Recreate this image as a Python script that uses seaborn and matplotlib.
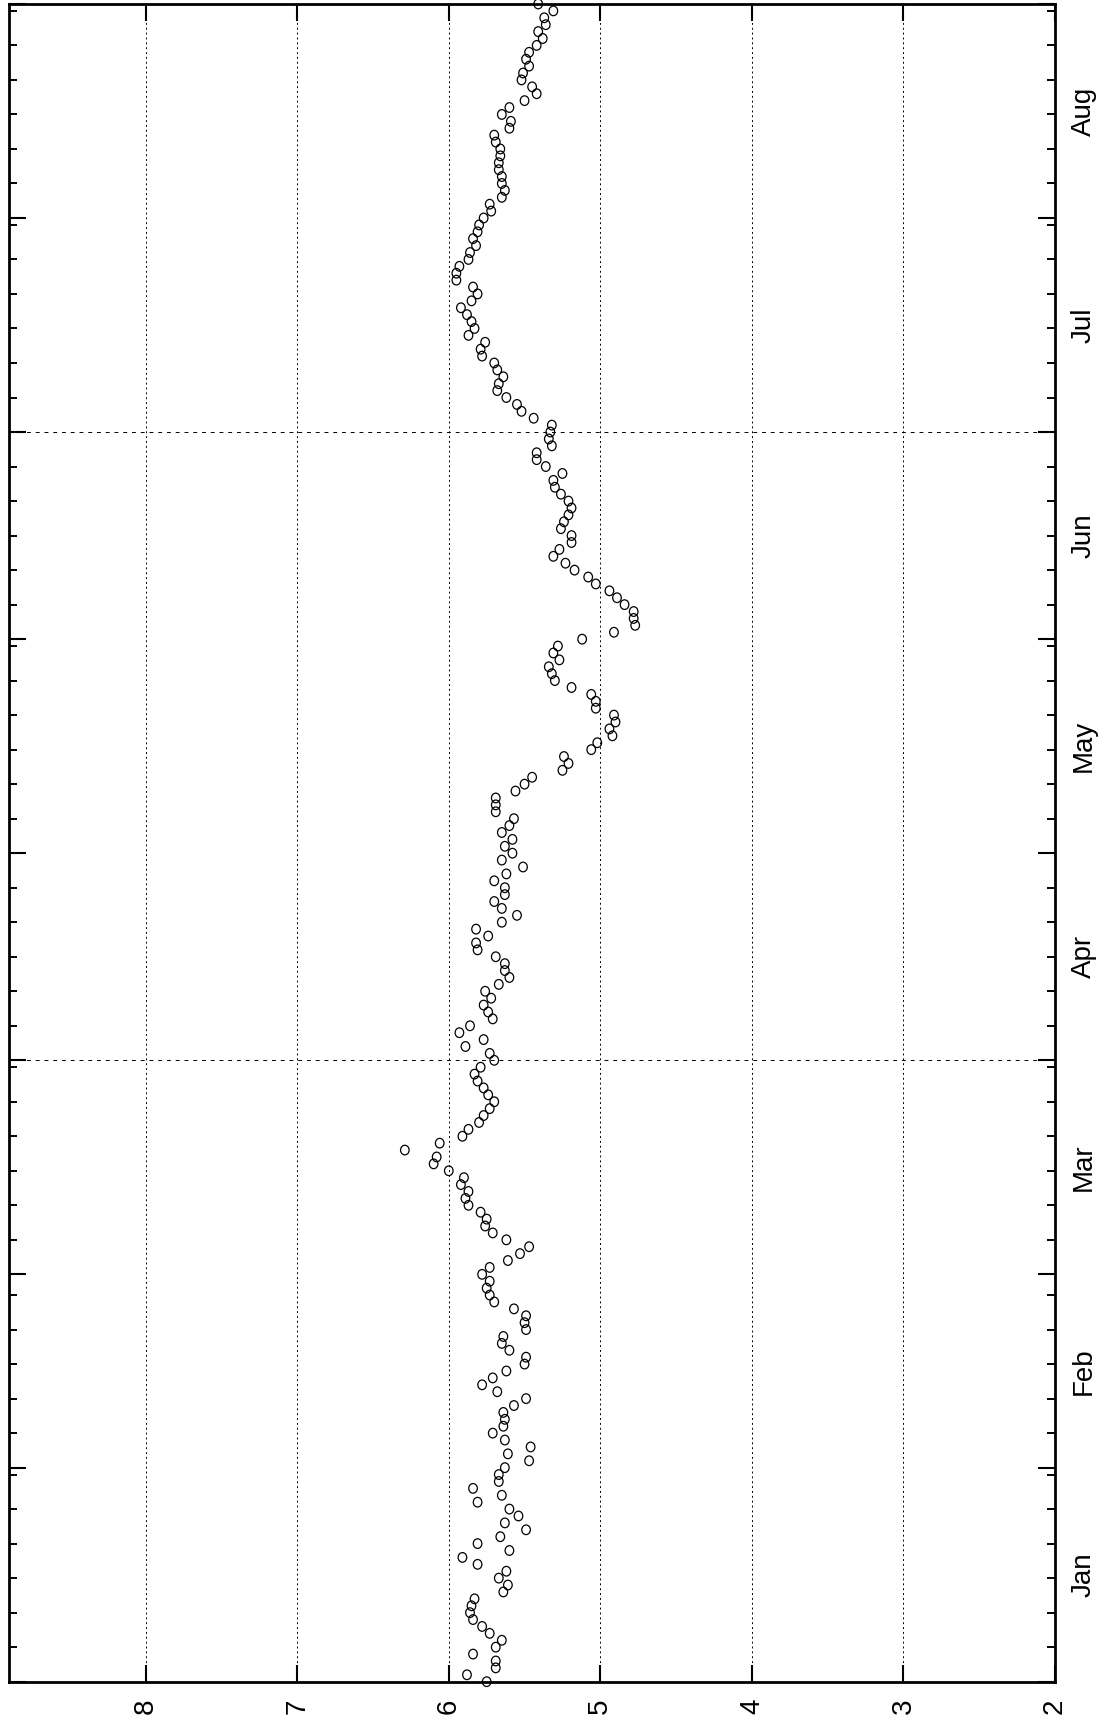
import pandas as pd
import matplotlib
matplotlib.use("Agg")
import matplotlib.pyplot as plt
import matplotlib.dates as mdates
from matplotlib.path import Path
from matplotlib.transforms import Affine2D, blended_transform_factory
import seaborn as sns

# Daily readings, 1 Jan through 1 Sep
start_date = "2015-01-01"
end_date = "2015-09-01"
readings = [
    5.75, 5.88, 5.69, 5.69, 5.84, 5.69, 5.65, 5.73, 5.78, 5.84,
    5.86, 5.85, 5.83, 5.64, 5.61, 5.67, 5.62, 5.81, 5.91, 5.60,
    5.81, 5.66, 5.49, 5.63, 5.54, 5.60, 5.81, 5.65, 5.84, 5.67,
    5.67, 5.63, 5.47, 5.61, 5.46, 5.63, 5.71, 5.64, 5.63, 5.64,
    5.57, 5.49, 5.68, 5.78, 5.71, 5.62, 5.50, 5.49, 5.60, 5.65,
    5.64, 5.49, 5.50, 5.49, 5.57, 5.70, 5.73, 5.75, 5.73, 5.78,
    5.73, 5.61, 5.53, 5.47, 5.62, 5.71, 5.76, 5.75, 5.79, 5.87,
    5.89, 5.87, 5.92, 5.90, 6.00, 6.10, 6.08, 6.29, 6.06, 5.91,
    5.87, 5.80, 5.77, 5.73, 5.70, 5.74, 5.77, 5.81, 5.83, 5.79,
    5.70, 5.73, 5.89, 5.77, 5.93, 5.86, 5.71, 5.74, 5.77, 5.72,
    5.76, 5.67, 5.60, 5.63, 5.63, 5.69, 5.81, 5.82, 5.74, 5.82,
    5.65, 5.55, 5.65, 5.70, 5.63, 5.63, 5.70, 5.62, 5.51, 5.65,
    5.58, 5.63, 5.58, 5.65, 5.60, 5.57, 5.69, 5.69, 5.69, 5.56,
    5.50, 5.45, 5.25, 5.21, 5.24, 5.06, 5.02, 4.92, 4.94, 4.90,
    4.91, 5.03, 5.03, 5.06, 5.19, 5.30, 5.32, 5.34, 5.27, 5.31,
    5.28, 5.12, 4.91, 4.77, 4.78, 4.78, 4.84, 4.89, 4.94, 5.03,
    5.08, 5.17, 5.23, 5.31, 5.27, 5.19, 5.19, 5.26, 5.24, 5.21,
    5.19, 5.21, 5.26, 5.30, 5.31, 5.25, 5.36, 5.42, 5.42, 5.32,
    5.34, 5.33, 5.32, 5.44, 5.52, 5.55, 5.62, 5.68, 5.67, 5.64,
    5.68, 5.70, 5.78, 5.79, 5.76, 5.87, 5.83, 5.85, 5.88, 5.92,
    5.85, 5.81, 5.84, 5.95, 5.95, 5.93, 5.87, 5.86, 5.82, 5.84,
    5.81, 5.80, 5.77, 5.72, 5.73, 5.65, 5.63, 5.65, 5.65, 5.67,
    5.67, 5.66, 5.66, 5.69, 5.70, 5.60, 5.59, 5.65, 5.60, 5.50,
    5.42, 5.45, 5.52, 5.51, 5.47, 5.49, 5.47, 5.42, 5.38, 5.41,
    5.36, 5.37, 5.31, 5.41,
]
dates = pd.date_range(start_date, periods=len(readings), freq="D")

month_labels = ["Jan", "Feb", "Mar", "Apr", "May", "Jun", "Jul", "Aug"]
value_ticks = [2, 3, 4, 5, 6, 7, 8]
value_grid = [3, 4, 5, 6, 7, 8]
quarter_lines = ["2015-04-01", "2015-07-01"]
minor_days = [6, 11, 16, 21, 26, 31]
value_range = (8.9, 2.0)

df = pd.DataFrame({"date": dates, "value": readings})

sns.set_style("white", {
    "axes.edgecolor": "black",
    "text.color": "black",
    "xtick.color": "black",
    "ytick.color": "black",
    "axes.labelcolor": "black",
})
plt.rcParams["font.family"] = ["Liberation Sans", "DejaVu Sans"]

fig = plt.figure(figsize=(11.07, 17.28), dpi=100)
ax = fig.add_axes([0.0084, 0.0268, 0.9446, 0.9709])

# dotted grid: every unit on the value axis, quarter starts on the date axis
for v in value_grid:
    ax.axvline(v, color="black", lw=0.7, ls=(0, (2, 3)), zorder=1)
for q in quarter_lines:
    ax.axhline(pd.Timestamp(q), color="black", lw=0.7, ls=(0, (4, 5)), zorder=1)

# open circle, drawn slightly taller than wide
oval = Path.unit_circle().transformed(Affine2D().scale(1.0, 1.12))

sns.scatterplot(data=df, x="value", y="date", ax=ax, marker=oval,
                s=48, linewidth=0.9, zorder=3, legend=False)
for coll in ax.collections:
    coll.set_facecolor("none")
    coll.set_edgecolor("black")
    coll.set_clip_on(False)

ax.set_xlim(*value_range)
ax.set_ylim(pd.Timestamp(start_date), pd.Timestamp(end_date))
ax.set_xlabel("")
ax.set_ylabel("")

ax.set_xticks(value_ticks)
ax.set_xticklabels([str(v) for v in value_ticks])
ax.yaxis.set_major_locator(mdates.MonthLocator())
ax.yaxis.set_minor_locator(mdates.DayLocator(bymonthday=minor_days))
ax.yaxis.set_major_formatter(plt.NullFormatter())

ax.tick_params(axis="x", which="major", direction="in", length=12, width=1.5,
               top=True, bottom=True, labelsize=20, labelrotation=90, pad=12)
ax.tick_params(axis="y", which="major", direction="in", length=12, width=1.5,
               left=True, right=True, labelleft=False, labelright=False)
ax.tick_params(axis="y", which="minor", direction="in", length=6, width=1.4,
               left=True, right=True)

for side in ax.spines.values():
    side.set_linewidth(2.0)
    side.set_color("black")
    side.set_zorder(4)

# month names centred in each month, outside the right edge
month_starts = pd.date_range(start_date, end_date, freq="MS")
trans = blended_transform_factory(ax.transAxes, ax.transData)
for name, m0, m1 in zip(month_labels, month_starts[:-1], month_starts[1:]):
    mid = m0 + (m1 - m0) / 2
    ax.text(1.0277, mid, name, transform=trans, rotation=90,
            ha="center", va="center", fontsize=20)

fig.savefig("out.png", dpi=100)
